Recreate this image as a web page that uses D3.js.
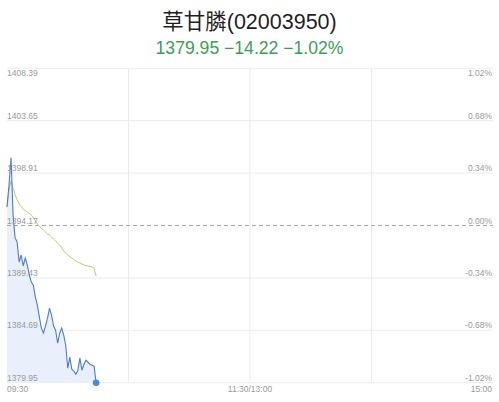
<!DOCTYPE html>
<html><head><meta charset="utf-8">
<script src="https://cdn.jsdelivr.net/npm/d3@7"></script>
<style>
html,body{margin:0;padding:0;background:#fff;}
svg{display:block;}
</style></head>
<body>
<svg id="c" width="499" height="402"></svg>
<script>
const title = "草甘膦(02003950)";
const subtitle = "1379.95 \u221214.22 \u22121.02%";
const prevClose = 1394.17;
const priceTicks = [1379.95, 1384.69, 1389.43, 1394.17, 1398.91, 1403.65, 1408.39];
const pctTicks = ["-1.02%", "-0.68%", "-0.34%", "0.00%", "0.34%", "0.68%", "1.02%"];
const timeLabels = ["09:30", "11:30/13:00", "15:00"];
const timePos = [0, 120, 240];
const totalMinutes = 240;
const price = [1395.86, 1397.85, 1400.30, 1395.13, 1393.05, 1392.68, 1390.87, 1391.50, 1390.51, 1391.23,
  1390.60, 1389.69, 1389.06, 1388.78, 1387.70, 1386.97, 1385.88, 1384.89, 1384.43, 1385.07,
  1385.79, 1386.70, 1386.06, 1385.07, 1384.70, 1383.52, 1384.43, 1384.89, 1384.25, 1383.34,
  1381.26, 1382.26, 1381.17, 1380.99, 1380.72, 1381.08, 1382.17, 1381.08, 1381.62, 1381.99,
  1381.80, 1381.62, 1381.53, 1381.44, 1379.95];
const avgPrice = [1395.81, 1397.40, 1398.22, 1397.58, 1396.95, 1396.49, 1396.13, 1395.86, 1395.68, 1395.49,
  1395.40, 1395.27, 1395.13, 1394.86, 1394.59, 1394.32, 1394.09, 1393.91, 1393.77, 1393.59,
  1393.41, 1393.32, 1393.14, 1392.95, 1392.77, 1392.59, 1392.41, 1392.14, 1391.87, 1391.68,
  1391.50, 1391.37, 1391.23, 1391.10, 1390.96, 1390.87, 1390.78, 1390.69, 1390.60, 1390.55,
  1390.51, 1390.46, 1390.42, 1390.28, 1389.60];

const svg = d3.select("#c");
const L = 7, R = 493, T = 68.3, B = 382.7;
const x = d3.scaleLinear().domain([0, totalMinutes]).range([L, R]);
const y = d3.scaleLinear().domain([priceTicks[0], priceTicks[priceTicks.length-1]]).range([B, T]);
const font = "'Liberation Sans', Arial, 'Noto Sans CJK SC', sans-serif";

svg.append("text").attr("x", 249.5).attr("y", 29).attr("text-anchor", "middle")
  .attr("font-family", font).attr("font-size", 21.5).attr("fill", "#1f1f1f").text(title);
svg.append("text").attr("x", 249.5).attr("y", 53.5).attr("text-anchor", "middle")
  .attr("font-family", font).attr("font-size", 17.6).attr("fill", "#3a9f55").text(subtitle);

// horizontal grid
priceTicks.forEach((p) => {
  if (p === prevClose) return;
  svg.append("line").attr("x1", L).attr("x2", R).attr("y1", y(p)).attr("y2", y(p))
    .attr("stroke", "#ebebeb").attr("stroke-width", 1);
});
// vertical grid
[60, 120, 180].forEach(m => {
  svg.append("line").attr("x1", x(m)).attr("x2", x(m)).attr("y1", T).attr("y2", B)
    .attr("stroke", "#ebebeb").attr("stroke-width", 1);
});

// area
const area = d3.area().x((d, i) => x(i)).y0(B).y1(d => y(d));
svg.append("path").datum(price).attr("d", area).attr("fill", "#e9f0fc");

// prev close dashed
svg.append("line").attr("x1", L).attr("x2", R).attr("y1", y(prevClose)).attr("y2", y(prevClose))
  .attr("stroke", "#a8a8a8").attr("stroke-width", 1).attr("stroke-dasharray", "4,3");

// avg line
const line = d3.line().x((d, i) => x(i)).y(d => y(d));
svg.append("path").datum(avgPrice).attr("d", line).attr("fill", "none")
  .attr("stroke", "#cdc46a").attr("stroke-width", 1);
// price line
svg.append("path").datum(price).attr("d", line).attr("fill", "none")
  .attr("stroke", "#4a7ccf").attr("stroke-width", 1.1);
// end dot
svg.append("circle").attr("cx", x(price.length - 1)).attr("cy", y(price[price.length - 1]))
  .attr("r", 3.3).attr("fill", "#3d8cf0");

// y labels
const last = priceTicks.length - 1;
priceTicks.forEach((p, i) => {
  const yy = i === last ? y(p) + 8 : y(p) - 2;
  svg.append("text").attr("x", L).attr("y", yy).attr("font-family", font)
    .attr("font-size", 8.5).attr("fill", "#9a9a9a").text(p.toFixed(2));
  svg.append("text").attr("x", R - 1).attr("y", yy).attr("text-anchor", "end").attr("font-family", font)
    .attr("font-size", 8.5).attr("fill", "#9a9a9a").text(pctTicks[i]);
});
// time labels
timeLabels.forEach((t, i) => {
  const anchor = i === 0 ? "start" : (i === timeLabels.length - 1 ? "end" : "middle");
  svg.append("text").attr("x", x(timePos[i]) - (i === timeLabels.length - 1 ? 1 : 0)).attr("y", 392)
    .attr("text-anchor", anchor).attr("font-family", font)
    .attr("font-size", 8.5).attr("fill", "#9a9a9a").text(t);
});
</script>
</body></html>
